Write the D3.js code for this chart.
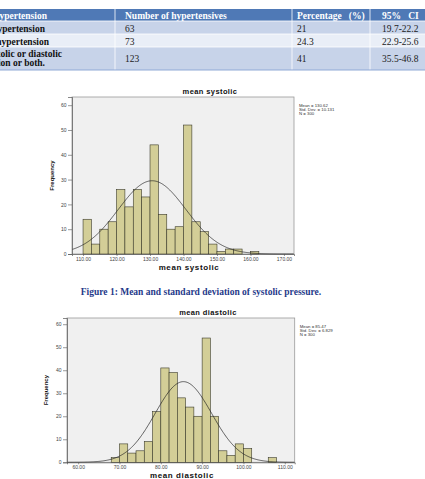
<!DOCTYPE html>
<html>
<head>
<meta charset="utf-8">
<script src="https://cdn.jsdelivr.net/npm/d3@7/dist/d3.min.js"></script>
<style>
  html, body { margin: 0; padding: 0; background: #fff; overflow: hidden; }
  svg { display: block; }
</style>
</head>
<body>
<div id="chart"></div>
<script>
// table data
const tableHeader = ["Type of hypertension", "Number of hypertensives", "Percentage   (%)", "95%   CI"];
const rowTypes = [["Systolic hypertension"], ["Diastolic hypertension"], ["Systolic or diastolic", "hypertension or both."]];
const rowNumbers = ["63", "73", "123"];
const rowPercent = ["21", "24.3", "41"];
const rowCI = ["19.7-22.2", "22.9-25.6", "35.5-46.8"];

// systolic histogram (bins of 2.5 starting at 110)
const sysStart = 110, sysWidth = 2.5;
const sysCounts = [14, 4, 10, 13, 26, 19, 26, 23, 44, 16, 10, 11, 52, 13, 9, 4, 1, 2, 2, 0, 1];
const sysTicks = [110, 120, 130, 140, 150, 160, 170];
const sysStats = { mean: 130.62, sd: 10.131, n: 300 };

// diastolic histogram (bins of 2 starting at 68)
const diaStart = 68, diaWidth = 2;
const diaCounts = [2, 8, 4, 5, 9, 22, 41, 39, 28, 24, 20, 54, 20, 5, 3, 8, 6, 0, 0, 2];
const diaTicks = [60, 70, 80, 90, 100, 110];
const diaStats = { mean: 85.47, sd: 6.829, n: 300 };

const freqTicks = [0, 10, 20, 30, 40, 50, 60];

const W = 425, H = 479;
const svg = d3.select("#chart").append("svg")
    .attr("width", W)
    .attr("height", H);

svg.append("rect").attr("width", W).attr("height", H).attr("fill", "#fff");

// ---- table ----
const serif = "'Liberation Serif', 'Times New Roman', serif";
const rowY = [9, 21, 34, 47, 70]; // header, row1, row2, row3, bottom
const rowFill = ["#4f79b6", "#c7d3e9", "#e9eef7", "#c7d3e9"];
rowFill.forEach((c, i) => {
    svg.append("rect")
        .attr("x", 0).attr("y", rowY[i])
        .attr("width", W).attr("height", rowY[i + 1] - rowY[i])
        .attr("fill", c);
});
// white separators
[rowY[1], rowY[2], rowY[3]].forEach(y => {
    svg.append("line").attr("x1", 0).attr("x2", W).attr("y1", y).attr("y2", y)
        .attr("stroke", "#fff").attr("stroke-width", 0.8);
});
[115, 292, 370].forEach(x => {
    svg.append("line").attr("x1", x).attr("x2", x).attr("y1", rowY[0]).attr("y2", rowY[4])
        .attr("stroke", "#fff").attr("stroke-width", 0.8);
});
svg.append("line").attr("x1", 0).attr("x2", W).attr("y1", rowY[4]).attr("y2", rowY[4])
    .attr("stroke", "#8fa9d6").attr("stroke-width", 1);

const colX = [null, 125, 297, 382];
// header
svg.append("text").attr("x", 47).attr("y", 18.5).attr("text-anchor", "end")
    .attr("font-family", serif).attr("font-size", 9.5).attr("font-weight", "bold")
    .attr("fill", "#fff").text(tableHeader[0]);
tableHeader.slice(1).forEach((t, i) => {
    svg.append("text").attr("x", colX[i + 1]).attr("y", 18.5)
        .attr("font-family", serif).attr("font-size", 9.5).attr("font-weight", "bold")
        .attr("fill", "#fff").attr("xml:space", "preserve").style("white-space", "pre").text(t);
});
// body rows
const rowTextY = [31.5, 44.5, 62];
const typeEnds = [[45], [49], [62, 45]];
const typeLineY = [[31.5], [44.5], [56.5, 66]];
rowTypes.forEach((lines, r) => {
    lines.forEach((t, k) => {
        svg.append("text").attr("x", typeEnds[r][k]).attr("y", typeLineY[r][k])
            .attr("text-anchor", "end")
            .attr("font-family", serif).attr("font-size", 9.5).attr("font-weight", "bold")
            .attr("fill", "#111").text(t);
    });
    [rowNumbers[r], rowPercent[r], rowCI[r]].forEach((t, c) => {
        svg.append("text").attr("x", colX[c + 1]).attr("y", rowTextY[r])
            .attr("font-family", serif).attr("font-size", 9.5)
            .attr("fill", "#222").text(t);
    });
});

// ---- histogram ----
const sans = "Arial, 'Liberation Sans', sans-serif";

function drawHist(cfg) {
    const g = svg.append("g");
    const x = d3.scaleLinear().domain(cfg.xDomain).range([cfg.left, cfg.right]);
    const y = d3.scaleLinear().domain(cfg.yDomain).range([cfg.bottom, cfg.top]);

    g.append("rect")
        .attr("x", cfg.left).attr("y", cfg.top)
        .attr("width", cfg.right - cfg.left).attr("height", cfg.bottom - cfg.top)
        .attr("fill", "#f0f0f0").attr("stroke", "#9a9a9a").attr("stroke-width", 0.8);

    const bins = cfg.counts.map((c, i) => ({ x0: cfg.start + i * cfg.width, x1: cfg.start + (i + 1) * cfg.width, c }));
    g.selectAll(".bar")
        .data(bins.filter(d => d.c > 0))
        .enter().append("rect")
        .attr("class", "bar")
        .attr("x", d => x(d.x0))
        .attr("y", d => y(d.c))
        .attr("width", d => x(d.x1) - x(d.x0))
        .attr("height", d => y(0) - y(d.c))
        .attr("fill", "#d3ce97")
        .attr("stroke", "#3a3a2a")
        .attr("stroke-width", 0.6);

    // normal curve from the mean and std. dev. in the legend
    const s = cfg.stats;
    const xs = d3.range(cfg.xDomain[0], cfg.xDomain[1], 0.2);
    const line = d3.line()
        .x(v => x(v))
        .y(v => y(s.n * cfg.width * Math.exp(-0.5 * ((v - s.mean) / s.sd) ** 2) / (s.sd * Math.sqrt(2 * Math.PI))))
        .curve(d3.curveBasis);
    g.append("path").datum(xs)
        .attr("d", line)
        .attr("fill", "none").attr("stroke", "#222").attr("stroke-width", 0.7);

    // axes
    const yAxis = g.append("g")
        .attr("transform", `translate(${cfg.left},0)`)
        .call(d3.axisLeft(y).tickValues(freqTicks).tickSize(4).tickPadding(1.5));
    const xAxis = g.append("g")
        .attr("transform", `translate(0,${cfg.bottom})`)
        .call(d3.axisBottom(x).tickValues(cfg.ticks).tickFormat(d3.format(".2f")).tickSize(2).tickPadding(1.5));
    [yAxis, xAxis].forEach(a => {
        a.select(".domain").attr("stroke", "#555").attr("stroke-width", 0.7);
        a.selectAll(".tick line").attr("stroke", "#555").attr("stroke-width", 0.6);
        a.selectAll(".tick text").attr("font-family", sans).attr("font-size", 5).attr("fill", "#444");
    });

    g.append("text")
        .attr("x", cfg.titleX).attr("y", cfg.titleY)
        .attr("text-anchor", "middle")
        .attr("font-family", sans).attr("font-size", 7.5).attr("font-weight", "bold")
        .attr("letter-spacing", 0.4)
        .attr("fill", "#111").text(cfg.title);
    g.append("text")
        .attr("x", cfg.xLabelX).attr("y", cfg.xLabelY)
        .attr("text-anchor", "middle")
        .attr("font-family", sans).attr("font-size", 8).attr("font-weight", "bold")
        .attr("letter-spacing", 0.6)
        .attr("fill", "#111").text(cfg.title);
    g.append("text")
        .attr("transform", `translate(${cfg.yLabelX},${(cfg.top + cfg.bottom) / 2}) rotate(-90)`)
        .attr("text-anchor", "middle")
        .attr("font-family", sans).attr("font-size", 6).attr("font-weight", "bold")
        .attr("fill", "#111").text("Frequency");

    const legend = [`Mean = ${s.mean}`, `Std. Dev. = ${s.sd}`, `N = ${s.n}`];
    legend.forEach((t, i) => {
        g.append("text")
            .attr("x", cfg.right + 5).attr("y", cfg.top + 10 + i * 3.8)
            .attr("font-family", sans).attr("font-size", 4.3)
            .attr("fill", "#333").text(t);
    });
}

drawHist({
    counts: sysCounts, start: sysStart, width: sysWidth, ticks: sysTicks, stats: sysStats,
    xDomain: [106.7, 173], yDomain: [0, 63.3],
    left: 72, right: 294, top: 97, bottom: 254,
    title: "mean systolic", titleX: 210, titleY: 94, xLabelX: 189, xLabelY: 270, yLabelX: 54
});

drawHist({
    counts: diaCounts, start: diaStart, width: diaWidth, ticks: diaTicks, stats: diaStats,
    xDomain: [57.3, 112.4], yDomain: [0, 62.7],
    left: 67, right: 294.7, top: 318, bottom: 462.3,
    title: "mean diastolic", titleX: 208, titleY: 315, xLabelX: 182, xLabelY: 478, yLabelX: 48
});

// caption
svg.append("text")
    .attr("x", 201).attr("y", 295)
    .attr("text-anchor", "middle")
    .attr("font-family", serif).attr("font-size", 9.5).attr("font-weight", "bold")
    .attr("fill", "#1f3a8a")
    .text("Figure 1: Mean and standard deviation of systolic pressure.");
</script>
</body>
</html>
